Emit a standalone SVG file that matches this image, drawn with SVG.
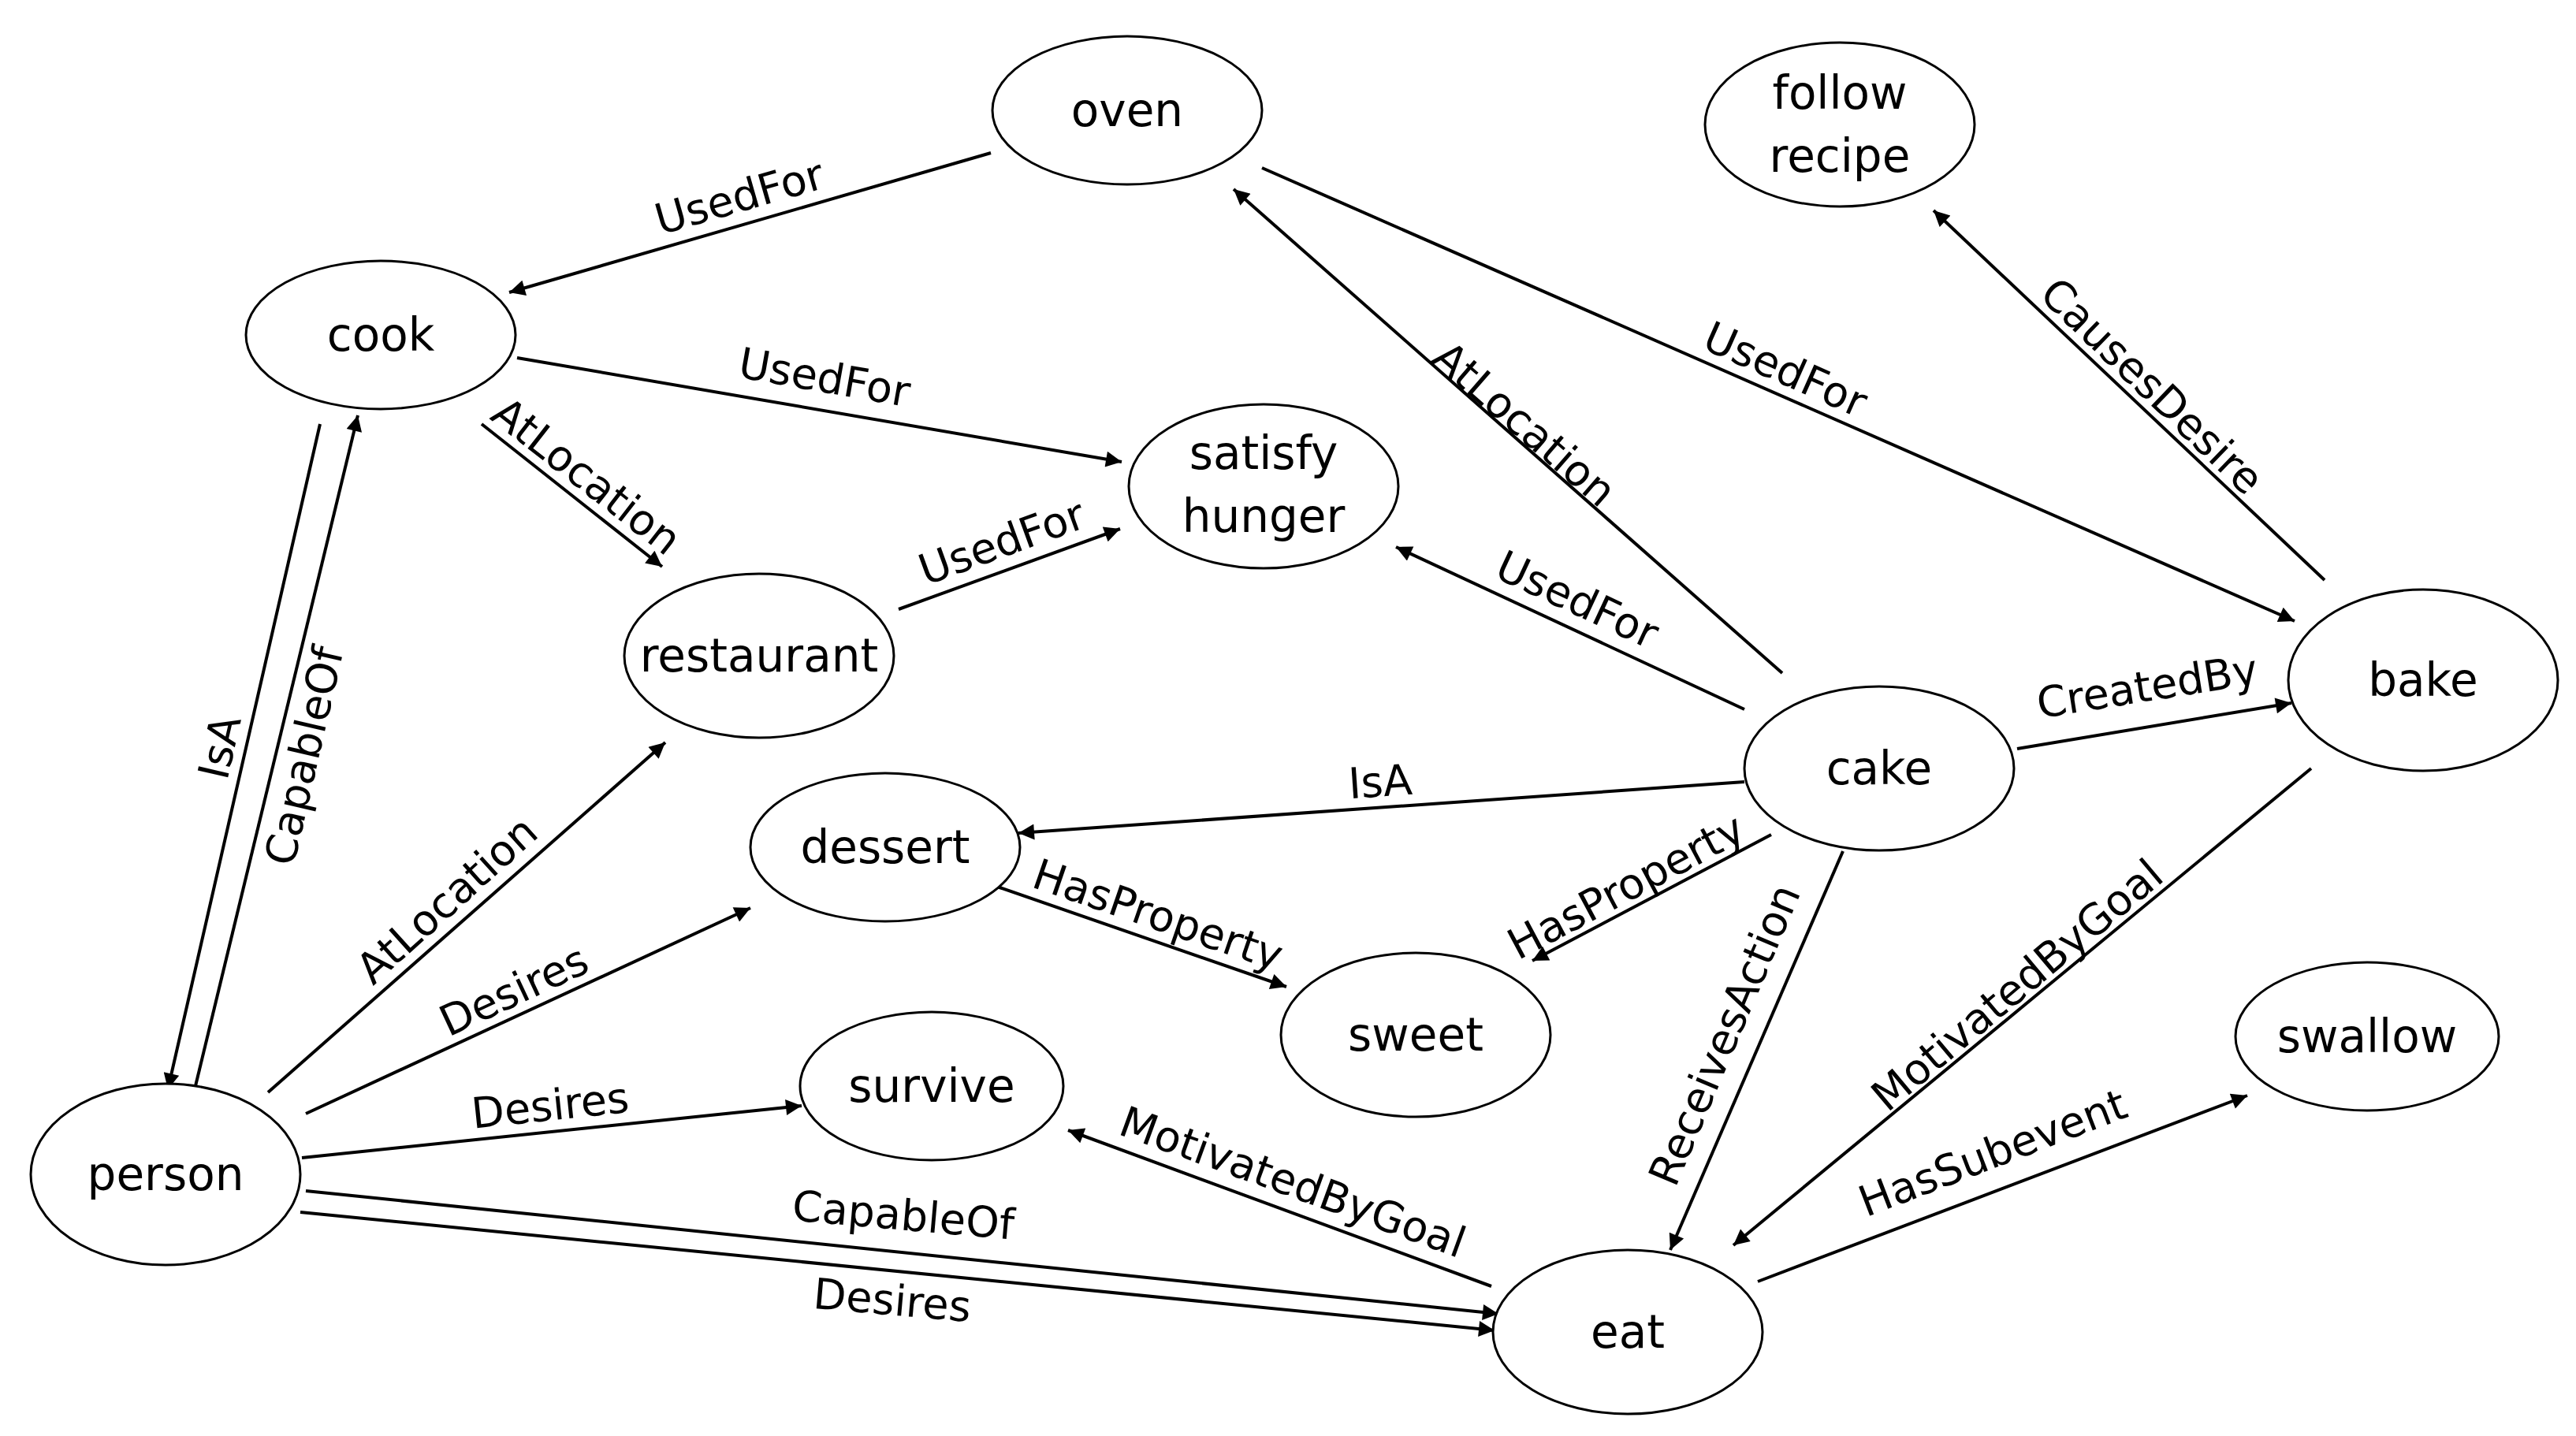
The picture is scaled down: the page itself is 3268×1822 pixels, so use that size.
<svg xmlns="http://www.w3.org/2000/svg" width="3268" height="1822" viewBox="0 0 3268 1822">
<style>
.n ellipse{fill:#fff;stroke:#000;stroke-width:3}
text{font-family:"DejaVu Sans","Liberation Sans",sans-serif;fill:#000;text-anchor:middle;dominant-baseline:central}
.n text{font-size:58px}
.e line{stroke:#000;stroke-width:4;marker-end:url(#a)}
.e text{font-size:54px}
</style>
<defs><marker id="a" viewBox="0 0 10 10" refX="10" refY="5" markerWidth="7" markerHeight="5" orient="auto" markerUnits="strokeWidth"><path d="M0,0L10,5L0,10z" fill="#000"/></marker></defs>
<rect width="3268" height="1822" fill="#fff"/>
<g class="e" id="connectors">
<line x1="1257" y1="194" x2="646" y2="371"/><text transform="translate(938,250) rotate(-16)">UsedFor</text>
<line x1="656" y1="454" x2="1423" y2="586"/><text transform="translate(1046,479) rotate(10)">UsedFor</text>
<line x1="611" y1="538" x2="840" y2="719"/><text transform="translate(744,604) rotate(38)">AtLocation</text>
<line x1="1140" y1="773" x2="1421" y2="671"/><text transform="translate(1271,688) rotate(-20)">UsedFor</text>
<line x1="1601" y1="213" x2="2911" y2="788"/><text transform="translate(2265,469) rotate(24)">UsedFor</text>
<line x1="2261" y1="854" x2="1565" y2="240"/><text transform="translate(1934,538) rotate(41)">AtLocation</text>
<line x1="2213" y1="900" x2="1771" y2="694"/><text transform="translate(2001,761) rotate(25)">UsedFor</text>
<line x1="2949" y1="736" x2="2453" y2="267"/><text transform="translate(2730,490) rotate(44)">CausesDesire</text>
<line x1="2559" y1="950" x2="2907" y2="892"/><text transform="translate(2724,871) rotate(-9)">CreatedBy</text>
<line x1="2213" y1="992" x2="1292" y2="1057"/><text transform="translate(1751,992) rotate(-4)">IsA</text>
<line x1="2247" y1="1059" x2="1944" y2="1219"/><text transform="translate(2063,1125) rotate(-28)">HasProperty</text>
<line x1="1265" y1="1125" x2="1632" y2="1252"/><text transform="translate(1469,1161) rotate(19)">HasProperty</text>
<line x1="2338" y1="1080" x2="2119" y2="1586"/><text transform="translate(2188,1313) rotate(-67)">ReceivesAction</text>
<line x1="2932" y1="975" x2="2199" y2="1580"/><text transform="translate(2559,1250) rotate(-40)">MotivatedByGoal</text>
<line x1="2230" y1="1626" x2="2851" y2="1390"/><text transform="translate(2528,1463) rotate(-21)">HasSubevent</text>
<line x1="1892" y1="1632" x2="1355" y2="1434"/><text transform="translate(1640,1500) rotate(20)">MotivatedByGoal</text>
<line x1="406" y1="538" x2="213" y2="1382"/><text transform="translate(279,948) rotate(-77)">IsA</text>
<line x1="246" y1="1386" x2="454" y2="527"/><text transform="translate(386,959) rotate(-77)">CapableOf</text>
<line x1="340" y1="1386" x2="844" y2="942"/><text transform="translate(567,1142) rotate(-42)">AtLocation</text>
<line x1="388" y1="1413" x2="952" y2="1152"/><text transform="translate(652,1257) rotate(-25)">Desires</text>
<line x1="383" y1="1469" x2="1017" y2="1403"/><text transform="translate(698,1403) rotate(-6)">Desires</text>
<line x1="388" y1="1511" x2="1901" y2="1667"/><text transform="translate(1146,1542) rotate(5)">CapableOf</text>
<line x1="381" y1="1538" x2="1896" y2="1688"/><text transform="translate(1132,1650) rotate(5)">Desires</text>
</g>
<g class="n" id="oven"><ellipse cx="1430" cy="140" rx="171" ry="94"/><text x="1430" y="140">oven</text></g>
<g class="n" id="follow_recipe"><ellipse cx="2334" cy="158" rx="171" ry="104"/><text x="2334" y="118">follow</text><text x="2334" y="198">recipe</text></g>
<g class="n" id="cook"><ellipse cx="483" cy="425" rx="171" ry="94"/><text x="483" y="425">cook</text></g>
<g class="n" id="satisfy_hunger"><ellipse cx="1603" cy="617" rx="171" ry="104"/><text x="1603" y="575">satisfy</text><text x="1603" y="655">hunger</text></g>
<g class="n" id="restaurant"><ellipse cx="963" cy="832" rx="171" ry="104"/><text x="963" y="832">restaurant</text></g>
<g class="n" id="bake"><ellipse cx="3074" cy="863" rx="171" ry="115"/><text x="3074" y="863">bake</text></g>
<g class="n" id="cake"><ellipse cx="2384" cy="975" rx="171" ry="104"/><text x="2384" y="975">cake</text></g>
<g class="n" id="dessert"><ellipse cx="1123" cy="1075" rx="171" ry="94"/><text x="1123" y="1075">dessert</text></g>
<g class="n" id="sweet"><ellipse cx="1796" cy="1313" rx="171" ry="104"/><text x="1796" y="1313">sweet</text></g>
<g class="n" id="survive"><ellipse cx="1182" cy="1378" rx="167" ry="94"/><text x="1182" y="1378">survive</text></g>
<g class="n" id="swallow"><ellipse cx="3003" cy="1315" rx="167" ry="94"/><text x="3003" y="1315">swallow</text></g>
<g class="n" id="person"><ellipse cx="210" cy="1490" rx="171" ry="115"/><text x="210" y="1490">person</text></g>
<g class="n" id="eat"><ellipse cx="2065" cy="1690" rx="171" ry="104"/><text x="2065" y="1690">eat</text></g>
</svg>
